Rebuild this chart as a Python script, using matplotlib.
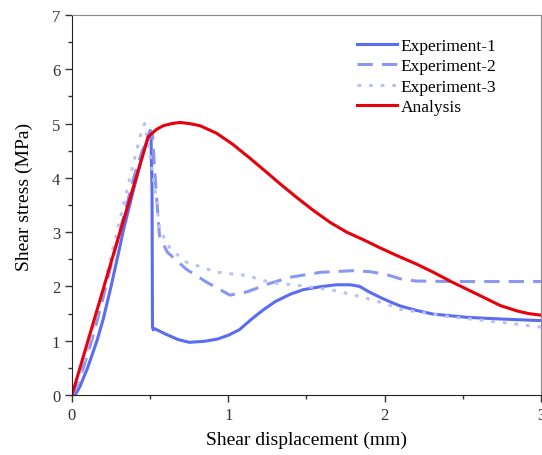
import numpy as np
import matplotlib
matplotlib.use("Agg")
import matplotlib.pyplot as plt
from matplotlib.ticker import MultipleLocator

plt.rcParams["font.family"] = ["Liberation Serif", "DejaVu Serif"]

# --- data ---
exp1_x = [0.02, 0.05, 0.10, 0.16, 0.20, 0.25, 0.30, 0.33, 0.40, 0.45, 0.50, 0.505, 0.512,
          0.515, 0.52, 0.53, 0.60, 0.68, 0.75, 0.85, 0.93, 1.00, 1.07, 1.15, 1.22, 1.30,
          1.40, 1.48, 1.58, 1.69, 1.78, 1.84, 1.90, 1.97, 2.04, 2.10, 2.20, 2.31, 2.42,
          2.53, 2.74, 3.00]
exp1_y = [0.00, 0.15, 0.50, 1.00, 1.40, 2.00, 2.65, 3.05, 3.85, 4.40, 4.87, 4.85, 3.80,
          1.25, 1.20, 1.22, 1.12, 1.02, 0.97, 0.99, 1.03, 1.10, 1.20, 1.40, 1.56, 1.72,
          1.86, 1.94, 1.99, 2.03, 2.03, 2.00, 1.90, 1.80, 1.71, 1.64, 1.56, 1.49, 1.46,
          1.43, 1.40, 1.37]

exp2_x = [0.00, 0.05, 0.10, 0.15, 0.20, 0.25, 0.30, 0.35, 0.40, 0.45, 0.50, 0.515, 0.53,
          0.55, 0.56, 0.61, 0.73, 0.86, 1.01, 1.12, 1.27, 1.40, 1.59, 1.80, 1.91, 2.01,
          2.10, 2.20, 2.42, 3.00]
exp2_y = [0.00, 0.30, 0.75, 1.25, 1.80, 2.40, 2.95, 3.50, 4.05, 4.50, 4.85, 4.80, 4.10,
          3.30, 2.93, 2.63, 2.32, 2.08, 1.84, 1.90, 2.06, 2.17, 2.26, 2.29, 2.27, 2.22,
          2.14, 2.10, 2.09, 2.09]

exp3_x = [0.00, 0.05, 0.10, 0.15, 0.20, 0.25, 0.30, 0.35, 0.40, 0.44, 0.465, 0.49, 0.51,
          0.54, 0.56, 0.63, 0.73, 0.93, 1.12, 1.27, 1.48, 1.69, 1.86, 2.01, 2.10, 2.42,
          2.74, 3.00]
exp3_y = [0.00, 0.35, 0.85, 1.40, 1.95, 2.55, 3.15, 3.75, 4.35, 4.80, 5.00, 4.60, 4.20,
          3.60, 3.05, 2.69, 2.45, 2.26, 2.20, 2.07, 2.01, 1.92, 1.80, 1.68, 1.58, 1.44,
          1.34, 1.25]

ana_x = [0.00, 0.30, 0.488, 0.50, 0.54, 0.584, 0.64, 0.691, 0.75, 0.819, 0.926, 1.032,
         1.139, 1.246, 1.331, 1.437, 1.544, 1.651, 1.757, 1.864, 1.971, 2.077, 2.205,
         2.312, 2.418, 2.525, 2.632, 2.738, 2.845, 2.92, 3.00]
ana_y = [0.00, 2.93, 4.76, 4.79, 4.89, 4.96, 5.00, 5.02, 5.00, 4.96, 4.82, 4.61,
         4.36, 4.10, 3.89, 3.64, 3.40, 3.18, 3.00, 2.86, 2.71, 2.57, 2.41,
         2.26, 2.10, 1.95, 1.80, 1.65, 1.55, 1.50, 1.47]

labels = ["Experiment-1", "Experiment-2", "Experiment-3", "Analysis"]

fig = plt.figure(figsize=(5.42, 4.56), dpi=100)
ax = fig.add_axes([0.1328, 0.1316, 0.8652, 0.8334])

ax.plot(exp1_x, exp1_y, color="#5a6cf0", lw=2.2, label=labels[0])
ax.plot(exp2_x, exp2_y, color="#8a97f2", lw=2.2, dashes=(5, 3), label=labels[1])
ax.plot(exp3_x, exp3_y, color="#b9c1f8", lw=2.2, dashes=(1.2, 2.6), label=labels[2])
ax.plot(ana_x, ana_y, color="#e8000a", lw=2.2, label=labels[3])

ax.set_xlim(0, 3)
ax.set_ylim(0, 7)
ax.xaxis.set_major_locator(MultipleLocator(1))
ax.xaxis.set_minor_locator(MultipleLocator(0.5))
ax.yaxis.set_major_locator(MultipleLocator(1))
ax.yaxis.set_minor_locator(MultipleLocator(0.5))
ax.tick_params(which="major", direction="out", length=5, width=1, labelsize=12,
               colors="#333333", labelcolor="#333333")
ax.tick_params(which="minor", direction="out", length=3, width=1, colors="#333333")

for s in ["top", "right"]:
    ax.spines[s].set_color("#888888")
for s in ["left", "bottom"]:
    ax.spines[s].set_color("#222222")

ax.set_xlabel("Shear displacement (mm)", fontsize=14, labelpad=6)
ax.set_ylabel("Shear stress (MPa)", fontsize=14)
ax.yaxis.set_label_coords(-0.083, 0.524)

ax.legend(loc="upper left", bbox_to_anchor=(0.607, 0.94), frameon=False, fontsize=12.5,
          handlelength=2.35, handletextpad=0.2, labelspacing=0.25, borderpad=0,
          borderaxespad=0)

fig.savefig("out.png", dpi=100)
